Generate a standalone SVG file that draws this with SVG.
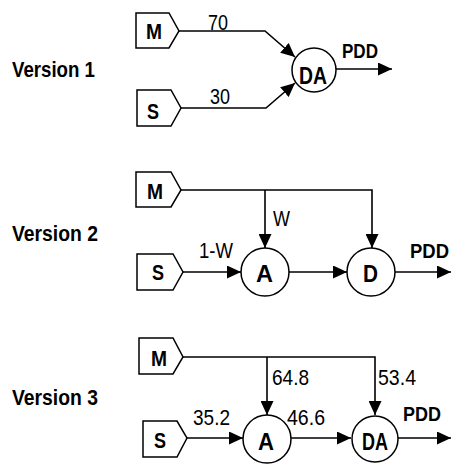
<svg xmlns="http://www.w3.org/2000/svg" width="451" height="465" viewBox="0 0 451 465">
  <style>
    .shape { fill: #ffffff; stroke: #000000; stroke-width: 1.5; }
    .wire { fill: none; stroke: #000000; stroke-width: 1.6; }
    .t { font-family: "Liberation Sans", Arial, sans-serif; fill: #000000; }
    .b { font-weight: bold; }
    .ver { font-size: 22px; }
    .src { font-size: 22px; }
    .op { font-size: 24px; }
    .num { font-size: 22px; }
    .out { font-size: 20px; }
  </style>
  <defs>
    <marker id="arrow" markerUnits="userSpaceOnUse" markerWidth="14" markerHeight="13" refX="14" refY="6.5" orient="auto">
      <path d="M0,0 L14,6.5 L0,13 Z" fill="#000000"/>
    </marker>
  </defs>

  <rect width="451" height="465" fill="#ffffff"/>

  <!-- row titles -->
  <g id="titles">
    <text class="t b ver" x="12" y="77" textLength="83" lengthAdjust="spacingAndGlyphs">Version 1</text>
    <text class="t b ver" x="12" y="241" textLength="86" lengthAdjust="spacingAndGlyphs">Version 2</text>
    <text class="t b ver" x="12" y="405" textLength="86" lengthAdjust="spacingAndGlyphs">Version 3</text>
  </g>

  <!-- connectors -->
  <g id="connectors">
    <!-- version 1 -->
    <polyline class="wire" points="179,31 265,31 295,57" marker-end="url(#arrow)"/>
    <polyline class="wire" points="181,108 266,108 295,83" marker-end="url(#arrow)"/>
    <line class="wire" x1="336" y1="69" x2="392" y2="69" marker-end="url(#arrow)"/>
    <!-- version 2 -->
    <polyline class="wire" points="181,190 372,190 372,248" marker-end="url(#arrow)"/>
    <line class="wire" x1="265" y1="190" x2="265" y2="248" marker-end="url(#arrow)"/>
    <line class="wire" x1="183" y1="272" x2="241" y2="272" marker-end="url(#arrow)"/>
    <line class="wire" x1="289" y1="272" x2="347" y2="272" marker-end="url(#arrow)"/>
    <line class="wire" x1="395" y1="272" x2="451" y2="272" marker-end="url(#arrow)"/>
    <!-- version 3 -->
    <polyline class="wire" points="183,357 375,357 375,415" marker-end="url(#arrow)"/>
    <line class="wire" x1="267" y1="357" x2="267" y2="415" marker-end="url(#arrow)"/>
    <line class="wire" x1="187" y1="438" x2="243" y2="438" marker-end="url(#arrow)"/>
    <line class="wire" x1="291" y1="438" x2="351" y2="438" marker-end="url(#arrow)"/>
    <line class="wire" x1="398" y1="438" x2="451" y2="438" marker-end="url(#arrow)"/>
  </g>

  <!-- connector labels -->
  <g id="labels">
    <text class="t num" x="208" y="30" textLength="20" lengthAdjust="spacingAndGlyphs">70</text>
    <text class="t num" x="210" y="104" textLength="20" lengthAdjust="spacingAndGlyphs">30</text>
    <text class="t b out" x="342" y="58" textLength="36" lengthAdjust="spacingAndGlyphs">PDD</text>

    <text class="t num" x="273" y="226" textLength="17" lengthAdjust="spacingAndGlyphs">W</text>
    <text class="t num" x="199" y="258" textLength="34" lengthAdjust="spacingAndGlyphs">1-W</text>
    <text class="t b out" x="410" y="258" textLength="39" lengthAdjust="spacingAndGlyphs">PDD</text>

    <text class="t num" x="272" y="385" textLength="37" lengthAdjust="spacingAndGlyphs">64.8</text>
    <text class="t num" x="378" y="385" textLength="38" lengthAdjust="spacingAndGlyphs">53.4</text>
    <text class="t num" x="193" y="425" textLength="37" lengthAdjust="spacingAndGlyphs">35.2</text>
    <text class="t num" x="287" y="425" textLength="38" lengthAdjust="spacingAndGlyphs">46.6</text>
    <text class="t b out" x="403" y="421" textLength="38" lengthAdjust="spacingAndGlyphs">PDD</text>
  </g>

  <!-- version 1 nodes -->
  <g id="v1-M">
    <polygon class="shape" points="136,13 169,13 179,31 169,48 136,48"/>
    <text class="t b src" x="146" y="39" textLength="16" lengthAdjust="spacingAndGlyphs">M</text>
  </g>
  <g id="v1-S">
    <polygon class="shape" points="137,90 171,90 181,108 171,126 137,126"/>
    <text class="t b src" x="147" y="119" textLength="12" lengthAdjust="spacingAndGlyphs">S</text>
  </g>
  <g id="v1-DA">
    <circle class="shape" cx="314" cy="70" r="22"/>
    <text class="t b op" x="299" y="84" textLength="28" lengthAdjust="spacingAndGlyphs">DA</text>
  </g>

  <!-- version 2 nodes -->
  <g id="v2-M">
    <polygon class="shape" points="136,172 171,172 181,190 171,207 136,207"/>
    <text class="t b src" x="147" y="199" textLength="16" lengthAdjust="spacingAndGlyphs">M</text>
  </g>
  <g id="v2-S">
    <polygon class="shape" points="137,254 173,254 183,272 173,290 137,290"/>
    <text class="t b src" x="152" y="280" textLength="12" lengthAdjust="spacingAndGlyphs">S</text>
  </g>
  <g id="v2-A">
    <circle class="shape" cx="265" cy="272" r="24"/>
    <text class="t b op" x="256" y="282" textLength="17" lengthAdjust="spacingAndGlyphs">A</text>
  </g>
  <g id="v2-D">
    <circle class="shape" cx="371" cy="272" r="24"/>
    <text class="t b op" x="363" y="282" textLength="15" lengthAdjust="spacingAndGlyphs">D</text>
  </g>

  <!-- version 3 nodes -->
  <g id="v3-M">
    <polygon class="shape" points="139,338 173,338 183,357 173,374 139,374"/>
    <text class="t b src" x="151" y="366" textLength="16" lengthAdjust="spacingAndGlyphs">M</text>
  </g>
  <g id="v3-S">
    <polygon class="shape" points="143,421 177,421 187,438 177,457 143,457"/>
    <text class="t b src" x="154" y="448" textLength="12" lengthAdjust="spacingAndGlyphs">S</text>
  </g>
  <g id="v3-A">
    <circle class="shape" cx="267" cy="439" r="24"/>
    <text class="t b op" x="258" y="450" textLength="16" lengthAdjust="spacingAndGlyphs">A</text>
  </g>
  <g id="v3-DA">
    <circle class="shape" cx="375" cy="439" r="23"/>
    <text class="t b op" x="362" y="450" textLength="26" lengthAdjust="spacingAndGlyphs">DA</text>
  </g>
</svg>
